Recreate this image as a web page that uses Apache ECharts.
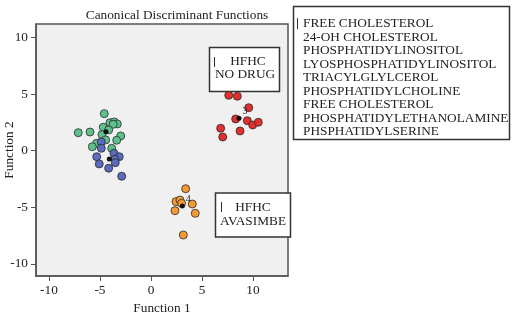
<!DOCTYPE html>
<html>
<head>
<meta charset="utf-8">
<script src="https://cdn.jsdelivr.net/npm/echarts@6/dist/echarts.min.js"></script>
<style>
  html, body { margin: 0; padding: 0; background: #fff; }
</style>
</head>
<body>
<div id="chart" style="width: 513px; height: 316px"></div>
<script>
// group scores, [function 1, function 2]
const group1 = [
  [-4.58, 3.27], [-7.13, 1.59], [-5.98, 1.65], [-4.02, 2.47], [-3.6, 2.54],
  [-3.3, 2.36], [-3.7, 2.33], [-4.68, 2.07], [-4.15, 1.83], [-4.8, 1.42],
  [-2.97, 1.3], [-4.44, 0.95], [-3.36, 0.92], [-5.32, 0.65], [-5.75, 0.35],
  [-3.85, 0.21]
];
const group2 = [
  [-4.87, 0.77], [-4.87, 0.21], [-3.63, -0.23], [-5.32, -0.53], [-3.11, -0.53],
  [-3.53, -0.76], [-3.5, -1.06], [-5.07, -1.17], [-4.15, -1.55], [-2.87, -2.26]
];
const group3 = [
  [7.62, 4.89], [8.46, 4.81], [9.58, 3.8], [8.3, 2.8], [9.44, 2.65],
  [9.97, 2.27], [10.52, 2.51], [6.83, 1.98], [8.73, 1.74], [7.03, 1.21]
];
const group4 = [
  [3.4, -3.36], [2.45, -4.5], [2.84, -4.36], [3.0, -4.65], [4.05, -4.71],
  [4.34, -5.53], [2.35, -5.3], [3.17, -7.45]
];
const centroids = [[-4.41, 1.68], [-4.09, -0.73], [8.63, 2.86], [3.07, -4.89]];
const centroidLabels = ["", "", "3", "4"];
const groupColors = ["#5ec08a", "#5b6bbd", "#e0302e", "#f49a33"];
const tickValues = [-10, -5, 0, 5, 10];
const legendLines = [
  "FREE CHOLESTEROL",
  "24-OH CHOLESTEROL",
  "PHOSPHATIDYLINOSITOL",
  "LYOSPHOSPHATIDYLINOSITOL",
  "TRIACYLGLYLCEROL",
  "PHOSPHATIDYLCHOLINE",
  "FREE CHOLESTEROL",
  "PHOSPHATIDYLETHANOLAMINE",
  "PHSPHATIDYLSERINE"
];

const font = "Liberation Serif";
const fs = 13.3;
const chart = echarts.init(document.getElementById("chart"));

const groupSeries = [group1, group2, group3, group4].map((d, i) => ({
  type: "scatter",
  symbolSize: 8,
  itemStyle: { color: groupColors[i], borderColor: "#2a2a2a", borderWidth: 0.8, opacity: 1 },
  data: d
}));

const textStyle = (t, align) => ({
  text: t,
  font: fs + "px '" + font + "'",
  fill: "#222",
  textAlign: align,
  textVerticalAlign: "middle"
});

// legend box on the right
const legendGraphics = [
  {
    type: "rect",
    shape: { x: 293.5, y: 6.5, width: 216, height: 133 },
    style: { fill: "#fff", stroke: "#333", lineWidth: 1.5 }
  },
  {
    type: "rect",
    shape: { x: 297, y: 18, width: 1, height: 11 },
    style: { fill: "#333" }
  }
];
legendLines.forEach((t, i) => {
  legendGraphics.push({
    type: "text",
    x: 303,
    y: 24 + i * 13.5,
    style: textStyle(t, "left")
  });
});

const boxGraphics = [
  {
    type: "rect",
    shape: { x: 209.5, y: 47.5, width: 70, height: 44 },
    style: { fill: "#fff", stroke: "#333", lineWidth: 1.5 }
  },
  { type: "rect", shape: { x: 214, y: 57, width: 1, height: 10 }, style: { fill: "#333" } },
  { type: "text", x: 248, y: 62, style: textStyle("HFHC", "center") },
  { type: "text", x: 245, y: 75, style: textStyle("NO DRUG", "center") },
  {
    type: "rect",
    shape: { x: 215.5, y: 193, width: 75, height: 44 },
    style: { fill: "#fff", stroke: "#333", lineWidth: 1.5 }
  },
  { type: "rect", shape: { x: 221, y: 202, width: 1, height: 10 }, style: { fill: "#333" } },
  { type: "text", x: 253, y: 208, style: textStyle("HFHC", "center") },
  { type: "text", x: 253, y: 222, style: textStyle("AVASIMBE", "center") }
];

const option = {
  backgroundColor: "#fff",
  animation: false,
  title: {
    text: "Canonical Discriminant Functions",
    left: 172,
    top: 4,
    textAlign: "center",
    textStyle: { fontFamily: font, fontSize: fs, fontWeight: "normal", color: "#222" }
  },
  grid: {
    left: 36,
    top: 24,
    right: 225,
    bottom: 40,
    outerBoundsMode: "none",
    containLabel: false,
    show: true,
    backgroundColor: "#f0f0f0",
    borderColor: "#555",
    borderWidth: 1.5
  },
  xAxis: {
    type: "value",
    min: -11.27,
    max: 13.43,
    name: "Function 1",
    nameLocation: "middle",
    nameGap: 26,
    nameTextStyle: { fontFamily: font, fontSize: fs, color: "#222" },
    splitLine: { show: false },
    axisLine: { show: true, onZero: false, lineStyle: { color: "#555", width: 1.5 } },
    axisTick: { show: true, length: 5, customValues: tickValues, lineStyle: { color: "#555" } },
    axisLabel: { customValues: tickValues, margin: 8, fontFamily: font, fontSize: fs, color: "#222" }
  },
  yAxis: {
    type: "value",
    min: -11.07,
    max: 11.19,
    name: "Function 2",
    nameLocation: "middle",
    nameGap: 20,
    nameMoveOverlap: false,
    nameTextStyle: { fontFamily: font, fontSize: fs, color: "#222" },
    splitLine: { show: false },
    axisLine: { show: true, onZero: false, lineStyle: { color: "#555", width: 1.5 } },
    axisTick: { show: true, length: 5, customValues: tickValues, lineStyle: { color: "#555" } },
    axisLabel: { customValues: tickValues, margin: 8, fontFamily: font, fontSize: fs, color: "#222" }
  },
  series: groupSeries.concat([
    {
      type: "scatter",
      symbolSize: 5,
      itemStyle: { color: "#111", opacity: 1 },
      label: {
        show: true,
        position: [6, -9],
        formatter: (p) => centroidLabels[p.dataIndex],
        fontFamily: font,
        fontSize: 10,
        color: "#222"
      },
      data: centroids
    }
  ]),
  graphic: legendGraphics.concat(boxGraphics)
};
chart.setOption(option);
</script>
</body>
</html>
